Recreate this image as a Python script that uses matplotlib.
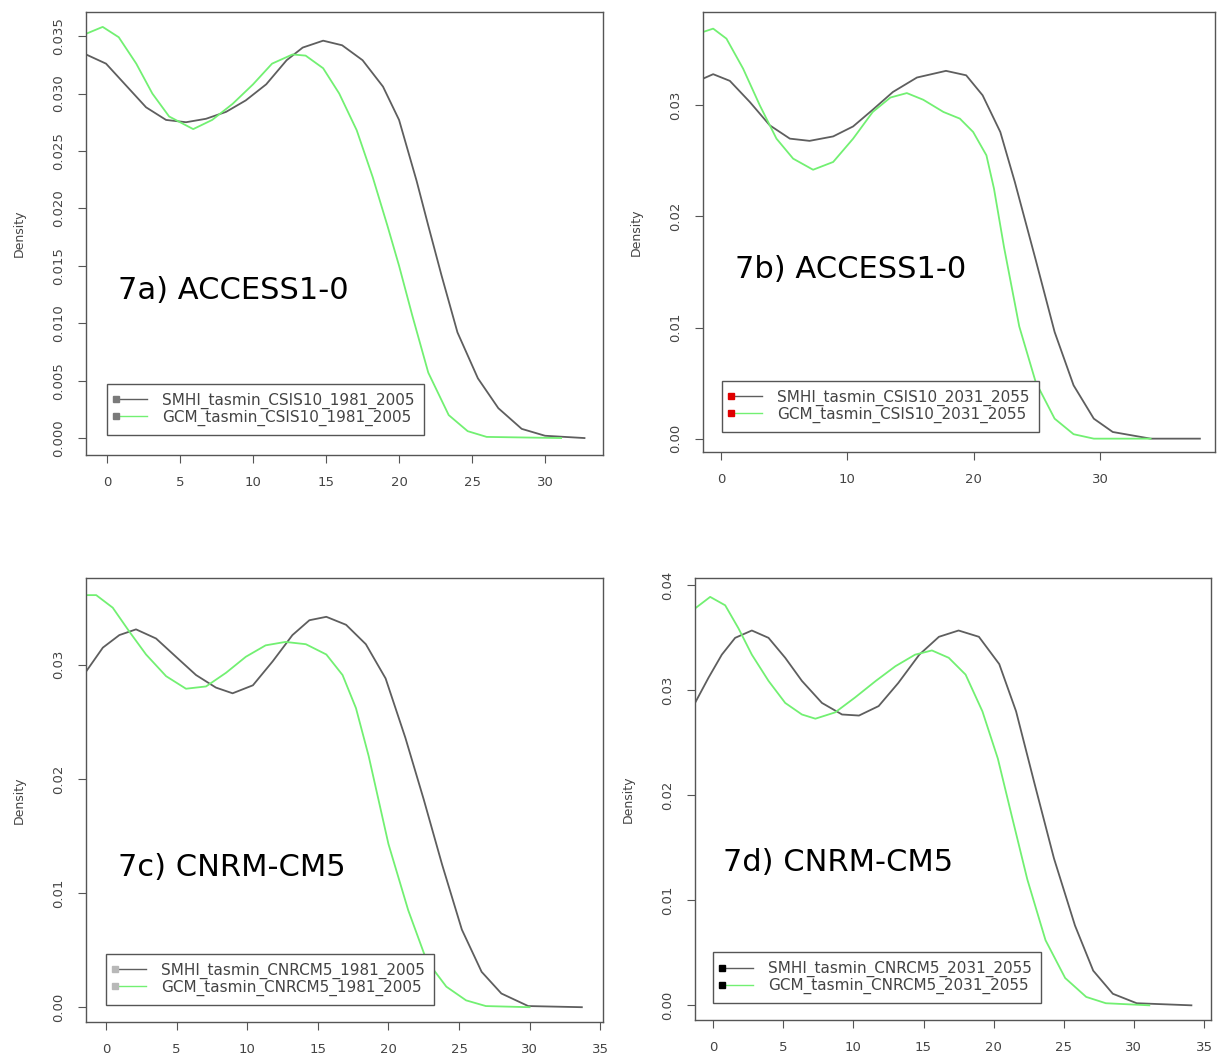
import matplotlib
matplotlib.use("Agg")
import matplotlib.pyplot as plt
from matplotlib.legend_handler import HandlerLine2D
from matplotlib.lines import Line2D

# ── Data ─────────────────────────────────────────────────────────────────────

A_X_SMHI = [-1.44, -0.07, 1.3, 2.67, 4.04, 5.41, 6.78, 8.15, 9.5, 10.9, 12.3, 13.4, 14.8,
            16.1, 17.5, 18.9, 20.0, 21.2, 22.0, 22.9, 24.0, 25.4, 26.8, 28.4, 30.0, 32.7]
A_Y_SMHI = [0.0334, 0.0326, 0.0307, 0.0288, 0.0277, 0.0275, 0.0278, 0.0284, 0.0294, 0.0308,
            0.0329, 0.0340, 0.0346, 0.0342, 0.0329, 0.0306, 0.0277, 0.0224, 0.0185, 0.0142,
            0.0092, 0.0052, 0.0026, 0.0008, 0.0002, 0.0]
A_X_GCM = [-1.44, -0.3, 0.8, 2.0, 3.1, 4.25, 5.9, 7.2, 8.6, 10.0, 11.3, 12.7, 13.6, 14.8,
           15.9, 17.1, 18.2, 19.2, 20.0, 20.9, 22.0, 23.4, 24.7, 26.0, 31.1]
A_Y_GCM = [0.0352, 0.0358, 0.0349, 0.0326, 0.0300, 0.0280, 0.0269, 0.0277, 0.0291, 0.0308,
           0.0326, 0.0334, 0.0333, 0.0322, 0.0300, 0.0268, 0.0227, 0.0185, 0.0150, 0.0107,
           0.0057, 0.0020, 0.0006, 0.0001, 0.0]

B_X_SMHI = [-1.43, -0.63, 0.69, 2.27, 3.85, 5.44, 7.0, 8.87, 10.45, 12.0, 13.6, 15.5, 17.8,
            19.4, 20.7, 22.1, 23.25, 24.9, 26.4, 27.9, 29.5, 31.0, 34.0, 37.9]
B_Y_SMHI = [0.0324, 0.0328, 0.0322, 0.0303, 0.0282, 0.0270, 0.0268, 0.0272, 0.0281, 0.0296,
            0.0312, 0.0325, 0.0331, 0.0327, 0.0309, 0.0276, 0.0231, 0.0161, 0.0096, 0.0048,
            0.0018, 0.0006, 0.0, 0.0]
B_X_GCM = [-1.43, -0.63, 0.42, 1.74, 3.06, 4.38, 5.7, 7.28, 8.87, 10.45, 12.0, 13.4, 14.7,
           16.0, 17.6, 18.9, 19.95, 21.0, 21.6, 22.4, 23.6, 24.9, 26.4, 27.9, 29.5, 34.0]
B_Y_GCM = [0.0366, 0.0369, 0.0360, 0.0333, 0.0300, 0.0270, 0.0252, 0.0242, 0.0249, 0.0270,
           0.0294, 0.0307, 0.0311, 0.0305, 0.0294, 0.0288, 0.0276, 0.0255, 0.0225, 0.0172,
           0.0101, 0.0051, 0.0018, 0.0004, 0.0, 0.0]

C_X_SMHI = [-1.42, -0.23, 0.94, 2.12, 3.54, 4.95, 6.37, 7.78, 8.96, 10.4, 11.8, 13.2, 14.4,
            15.6, 17.0, 18.4, 19.8, 21.2, 22.5, 23.8, 25.2, 26.6, 28.0, 29.9, 33.7]
C_Y_SMHI = [0.0294, 0.0315, 0.0326, 0.0331, 0.0323, 0.0307, 0.0291, 0.0280, 0.0275, 0.0282,
            0.0303, 0.0326, 0.0339, 0.0342, 0.0335, 0.0318, 0.0288, 0.0236, 0.0182, 0.0125,
            0.0068, 0.0031, 0.0012, 0.0001, 0.0]
C_X_GCM = [-1.42, -0.7, 0.47, 1.65, 2.83, 4.25, 5.66, 7.08, 8.5, 9.9, 11.3, 12.7, 14.15,
           15.6, 16.75, 17.7, 18.6, 20.0, 21.4, 22.7, 24.1, 25.5, 26.9, 30.0]
C_Y_GCM = [0.0361, 0.0361, 0.0350, 0.0329, 0.0309, 0.0290, 0.0279, 0.0281, 0.0293, 0.0307,
           0.0317, 0.0320, 0.0318, 0.0309, 0.0291, 0.0262, 0.0220, 0.0143, 0.0085, 0.0041,
           0.0018, 0.0006, 0.0001, 0.0]

D_X_SMHI = [-1.29, -0.33, 0.62, 1.57, 2.76, 3.95, 5.14, 6.33, 7.76, 9.19, 10.4, 11.8, 13.2,
            14.7, 16.1, 17.5, 18.95, 20.4, 21.6, 22.9, 24.3, 25.8, 27.1, 28.5, 30.2, 34.1]
D_Y_SMHI = [0.0288, 0.0312, 0.0334, 0.0350, 0.0357, 0.0350, 0.0331, 0.0309, 0.0288, 0.0277,
            0.0276, 0.0285, 0.0307, 0.0334, 0.0351, 0.0357, 0.0351, 0.0325, 0.0280, 0.0212,
            0.0140, 0.0076, 0.0033, 0.0011, 0.0002, 0.0]
D_X_GCM = [-1.29, -0.21, 0.86, 1.81, 2.76, 3.95, 5.14, 6.33, 7.29, 8.7, 10.1, 11.6, 13.0,
           14.4, 15.6, 16.8, 18.0, 19.2, 20.3, 21.3, 22.4, 23.7, 25.1, 26.6, 28.0, 31.1]
D_Y_GCM = [0.0378, 0.0389, 0.0381, 0.0359, 0.0334, 0.0309, 0.0288, 0.0277, 0.0273, 0.0279,
           0.0293, 0.0309, 0.0323, 0.0334, 0.0338, 0.0331, 0.0315, 0.0280, 0.0235, 0.0180,
           0.0120, 0.0062, 0.0026, 0.0008, 0.0002, 0.0]

PANEL_LABELS = ["7a) ACCESS1-0", "7b) ACCESS1-0", "7c) CNRM-CM5", "7d) CNRM-CM5"]
SMHI_NAMES = ["SMHI_tasmin_CSIS10_1981_2005", "SMHI_tasmin_CSIS10_2031_2055",
              "SMHI_tasmin_CNRCM5_1981_2005", "SMHI_tasmin_CNRCM5_2031_2055"]
GCM_NAMES = ["GCM_tasmin_CSIS10_1981_2005", "GCM_tasmin_CSIS10_2031_2055",
             "GCM_tasmin_CNRCM5_1981_2005", "GCM_tasmin_CNRCM5_2031_2055"]
X_TICKS = [[0, 5, 10, 15, 20, 25, 30], [0, 10, 20, 30],
           [0, 5, 10, 15, 20, 25, 30, 35], [0, 5, 10, 15, 20, 25, 30, 35]]
Y_TICKS = [[0.0, 0.005, 0.010, 0.015, 0.020, 0.025, 0.030, 0.035], [0.0, 0.01, 0.02, 0.03],
           [0.0, 0.01, 0.02, 0.03], [0.0, 0.01, 0.02, 0.03, 0.04]]

# ── Layout / style ───────────────────────────────────────────────────────────

GRAY = "#5e5e5e"
GREEN = "#72f072"
FRAME = "#555555"
MARKER_COLORS = ["#7a7a7a", "#e00000", "#b8b8b8", "#000000"]

# [left, bottom, width, height] in figure fractions
AX_POS = [
    [0.0707, 0.5703, 0.4248, 0.4184],
    [0.5777, 0.5732, 0.4207, 0.4155],
    [0.0707, 0.0349, 0.4248, 0.4193],
    [0.5711, 0.0368, 0.4240, 0.4174],
]
XLIM = [(-1.44, 33.97), (-1.43, 39.1), (-1.42, 35.2), (-1.29, 35.5)]
YLIM = [(-0.00148, 0.0371), (-0.0012, 0.0384), (-0.0013, 0.0376), (-0.0014, 0.0407)]
Y_FMT = ["{:.3f}", "{:.2f}", "{:.2f}", "{:.2f}"]
LABEL_POS = [(0.062, 0.372), (0.0625, 0.414), (0.062, 0.347), (0.054, 0.357)]
LEGEND_POS = [(0.041, 0.045), (0.037, 0.045), (0.039, 0.038), (0.035, 0.038)]


class LeftMarkerHandler(HandlerLine2D):
    """R-style legend key: small square at the left end of the line."""

    def create_artists(self, legend, orig_handle, xdescent, ydescent, width, height,
                       fontsize, trans):
        artists = super().create_artists(legend, orig_handle, xdescent, ydescent,
                                         width, height, fontsize, trans)
        for a in artists:
            if isinstance(a, Line2D) and a.get_marker() not in (None, "None", ""):
                a.set_markevery([0])
        return artists


plt.rcParams["font.family"] = ["DejaVu Sans"]

fig = plt.figure(figsize=(12.17, 10.59), dpi=100)

series = [
    (A_X_SMHI, A_Y_SMHI, A_X_GCM, A_Y_GCM),
    (B_X_SMHI, B_Y_SMHI, B_X_GCM, B_Y_GCM),
    (C_X_SMHI, C_Y_SMHI, C_X_GCM, C_Y_GCM),
    (D_X_SMHI, D_Y_SMHI, D_X_GCM, D_Y_GCM),
]

for i, (xs, ys, xg, yg) in enumerate(series):
    ax = fig.add_axes(AX_POS[i])
    ax.plot(xs, ys, color=GRAY, lw=1.3, solid_joinstyle="round")
    ax.plot(xg, yg, color=GREEN, lw=1.3, solid_joinstyle="round")
    ax.set_xlim(*XLIM[i])
    ax.set_ylim(*YLIM[i])

    ax.set_xticks(X_TICKS[i])
    ax.set_yticks(Y_TICKS[i])
    ax.set_yticklabels([Y_FMT[i].format(v) for v in Y_TICKS[i]],
                       rotation=90, va="center")
    ax.tick_params(axis="both", length=6, width=0.8, color=FRAME,
                   labelsize=9.5, labelcolor="#444444")
    ax.tick_params(axis="x", pad=9)
    ax.tick_params(axis="y", pad=9)
    for sp in ax.spines.values():
        sp.set_color(FRAME)
        sp.set_linewidth(1.0)

    ax.set_ylabel("Density", fontsize=9, color="#444444", labelpad=19)

    ax.text(LABEL_POS[i][0], LABEL_POS[i][1], PANEL_LABELS[i], transform=ax.transAxes,
            fontsize=22, ha="left", va="center", color="black")

    mc = MARKER_COLORS[i]
    handles = [
        Line2D([], [], color=GRAY, lw=1.0, marker="s", markersize=4,
               markerfacecolor=mc, markeredgecolor=mc),
        Line2D([], [], color=GREEN, lw=1.0, marker="s", markersize=4,
               markerfacecolor=mc, markeredgecolor=mc),
    ]
    leg = ax.legend(handles, [SMHI_NAMES[i], GCM_NAMES[i]],
                    loc="lower left", bbox_to_anchor=LEGEND_POS[i], borderaxespad=0,
                    fontsize=11, fancybox=False, edgecolor=FRAME, framealpha=1,
                    handlelength=2.0, handletextpad=1.0, borderpad=0.6,
                    labelspacing=0.05, numpoints=1,
                    handler_map={Line2D: LeftMarkerHandler()})
    leg.get_frame().set_linewidth(1.0)
    for t in leg.get_texts():
        t.set_color("#444444")

fig.savefig("out.png", dpi=100)
